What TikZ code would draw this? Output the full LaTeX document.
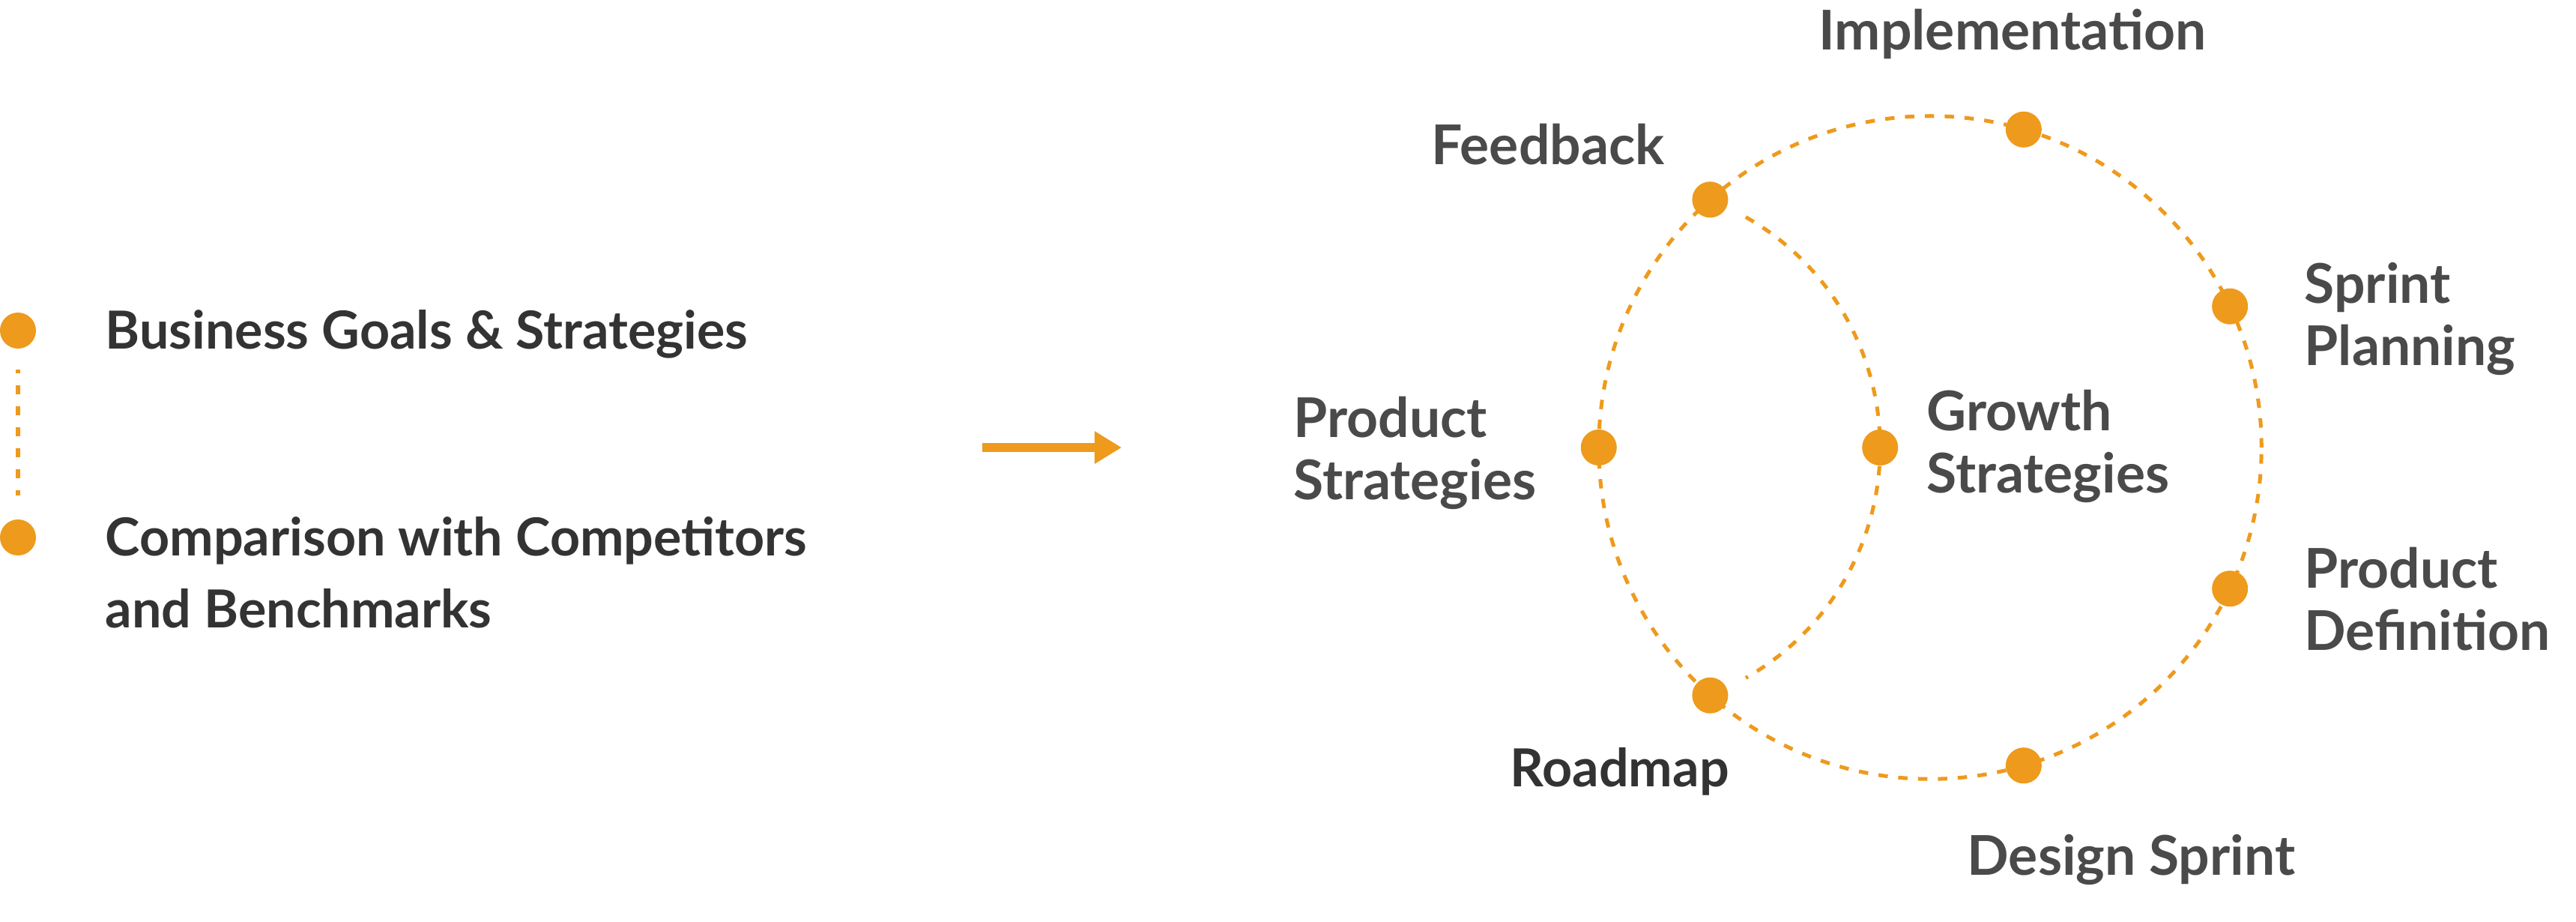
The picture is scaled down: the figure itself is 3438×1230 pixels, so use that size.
\documentclass[tikz,border=0pt]{standalone}
\usepackage{fontspec}
\setmainfont{Lato}
\usetikzlibrary{arrows.meta,calc}
\definecolor{org}{HTML}{EE9A1D}
\definecolor{lab}{HTML}{4A4A4A}
\definecolor{dark}{HTML}{333333}
\begin{document}
\begin{tikzpicture}[x=0.01cm,y=-0.01cm,
  dot/.style={circle,fill=org,draw=none,minimum size=0.48cm,inner sep=0pt},
  dashline/.style={draw=org,line width=0.05cm,dash pattern=on 0.125cm off 0.14cm},
  rlabel/.style={anchor=base west,inner sep=0pt,text=lab,align=left,
    font=\fontsize{20.8pt}{23.6pt}\selectfont\bfseries},
  llabel/.style={anchor=base west,inner sep=0pt,text=dark,align=left,
    font=\fontsize{19.9pt}{27.3pt}\selectfont\bfseries},
  bigarrow/.style={draw=org,line width=0.12cm,-{Triangle[length=0.36cm,width=0.41cm]}}
]
\useasboundingbox (0,0) rectangle (3438,1230);

% left list
\node[dot] (b1) at (24,441) {};
\node[dot] (b2) at (24,717) {};
\draw[dashline,line width=0.055cm,dash pattern=on 0.12cm off 0.16cm,dash phase=0.07cm,
  shorten <=0.27cm,shorten >=0.31cm] (b1) -- (b2);
\node[llabel] (t1) at (140,465) {Business Goals \& Strategies};
% base anchor of a multi-line node = last line
\node[llabel] (t2) at (140,837) {Comparison with Competitors\\and Benchmarks};

% arrow
\coordinate (a1) at (1311,597);
\coordinate (a2) at (1497,597);
\draw[bigarrow] (a1) -- (a2);

% cycle
\coordinate (C) at (2576,597);
\draw[dashline] (C) circle[radius=4.42cm];
\coordinate (ic) at (2156,597);
\coordinate (ia) at ($(ic)+(60.5:3.53cm)$);
\draw[dashline] (ia) arc[start angle=60.5,end angle=-60.5,radius=3.53cm];

\node[dot] (ps) at ($(C)+(180:4.42cm)$) {};
\node[dot] (fb) at ($(C)+(131.6:4.42cm)$) {};
\node[dot] (im) at ($(C)+(73.6:4.42cm)$) {};
\node[dot] (sp) at ($(C)+(25.2:4.42cm)$) {};
\node[dot] (pd) at ($(C)+(-25.2:4.42cm)$) {};
\node[dot] (ds) at ($(C)+(-73.6:4.42cm)$) {};
\node[dot] (rm) at ($(C)+(-131.6:4.42cm)$) {};
\node[dot] (gs) at ($(ic)+(0:3.53cm)$) {};

\node[rlabel] (l1) at (2427,67) {Implementation};
\node[rlabel] (l2) at (1910,219) {Feedback};
\node[rlabel] (l3) at (1726,666) {Product\\Strategies};
\node[rlabel] (l4) at (2571,657) {Growth\\Strategies};
\node[rlabel] (l5) at (3075,487) {Sprint\\Planning};
\node[rlabel] (l6) at (3075,867) {Product\\Definition};
\node[llabel] (l7) at (2015,1049) {Roadmap};
\node[rlabel] (l8) at (2625,1167) {Design Sprint};
\end{tikzpicture}
\end{document}
